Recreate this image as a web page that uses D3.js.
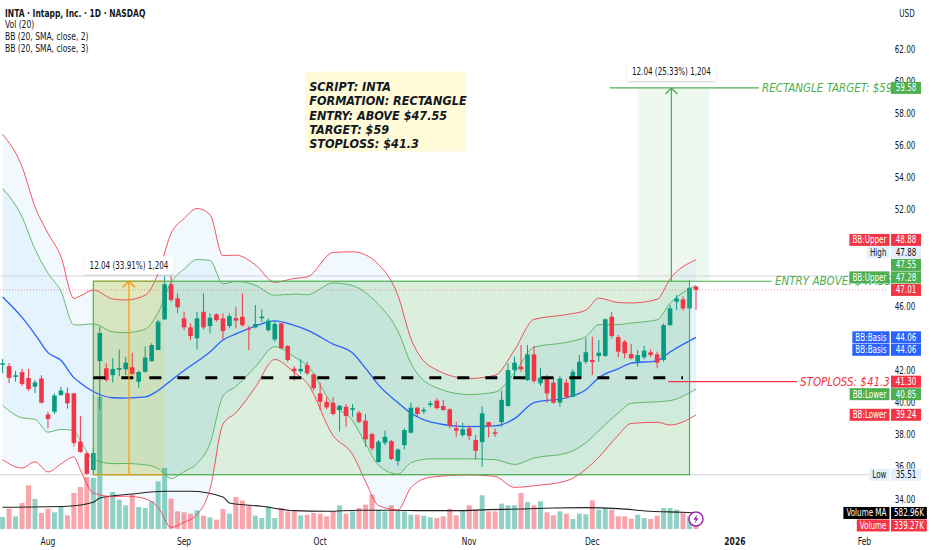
<!DOCTYPE html>
<html>
<head>
<meta charset="utf-8">
<script src="https://cdn.jsdelivr.net/npm/d3@7"></script>
<style>
	body { margin: 0; background: #fff; }
	svg { display: block; font-family: "Liberation Sans Narrow", "DejaVu Sans Condensed", sans-serif; }
	.note { font-family: "DejaVu Sans Condensed", "Liberation Sans Narrow", sans-serif; font-style: italic; }
</style>
</head>
<body>
<div id="chart"></div>
<script>
//daily bars, Jul 23 2025 -> Dec 23 2025
var barOpen = [42.35,42.27,41.60,41.90,41.53,40.99,41.50,39.26,39.43,40.47,40.59,40.57,37.58,36.84,35.80,42.58,42.13,41.71,42.05,42.07,
	42.20,41.30,41.92,42.58,43.27,45.18,47.36,46.48,45.24,44.68,44.00,45.65,44.76,45.49,45.24,44.76,45.25,45.34,44.60,44.68,
	45.25,44.50,43.93,44.93,43.52,42.10,41.95,42.34,41.76,40.57,40.05,39.99,39.54,39.74,39.55,39.37,38.87,38.04,36.30,37.50,
	37.60,36.36,37.36,38.12,39.68,39.45,39.85,40.12,39.79,39.58,38.40,37.98,38.40,37.67,37.54,38.78,38.15,38.78,39.79,42.02,
	42.23,41.40,43.00,41.20,41.55,41.24,40.00,41.24,40.36,41.57,42.54,42.65,42.90,42.90,45.34,44.07,43.79,43.02,42.54,42.82,
	43.13,43.00,42.65,44.82,46.28,46.42,45.86,47.22];
var barHigh = [42.71,42.46,41.98,42.10,42.09,41.40,41.70,39.43,40.57,40.99,40.95,40.60,39.16,36.90,37.17,44.72,42.44,42.77,43.30,42.85,
	43.10,41.98,43.48,43.69,45.14,47.85,47.88,46.80,45.65,44.93,45.65,46.80,45.55,45.55,45.55,45.55,45.96,46.80,44.76,46.07,
	45.80,45.24,45.03,44.97,43.58,42.27,42.69,42.54,41.82,41.24,40.33,40.33,39.85,39.91,39.91,39.49,39.29,38.12,37.67,38.25,
	37.67,37.15,38.40,39.99,39.74,39.70,40.12,40.27,40.16,39.64,38.81,38.75,38.60,37.98,39.78,38.81,38.40,40.74,42.44,42.85,
	43.58,43.58,43.52,42.13,41.71,41.61,41.65,41.45,42.07,42.96,44.00,44.10,43.89,45.24,45.65,44.20,43.89,43.64,43.27,43.52,
	43.31,43.17,44.93,46.07,46.69,46.59,47.60,47.25];
var barLow = [41.84,41.22,41.30,41.03,40.72,40.59,39.95,38.40,39.29,40.41,39.62,37.25,36.88,35.51,35.55,39.54,41.30,41.24,41.65,41.71,
	41.70,40.92,41.86,42.54,43.27,45.14,46.27,45.55,44.51,43.89,43.30,44.56,44.31,45.03,43.93,44.62,44.62,44.72,43.27,44.62,
	45.03,44.41,43.79,43.31,42.54,41.36,41.82,41.71,40.74,39.54,39.58,39.22,38.20,38.50,39.12,38.71,37.25,37.00,36.26,37.36,
	36.42,36.06,37.09,38.09,39.12,39.29,39.70,39.58,39.49,38.40,37.87,37.87,37.67,36.47,36.00,37.84,37.87,38.50,39.74,41.51,
	41.92,41.34,41.20,41.03,39.99,39.91,39.74,40.26,40.33,41.51,42.40,41.71,42.54,42.85,44.00,42.82,42.75,42.69,42.23,42.69,
	42.82,42.13,42.54,44.76,45.76,45.72,45.80,45.76];
var barClose = [42.45,41.53,41.70,41.15,40.84,41.25,39.99,38.98,40.44,40.75,39.95,37.48,36.92,35.57,36.86,44.33,41.40,42.09,42.15,42.48,
	41.78,41.90,42.80,43.58,45.03,47.36,46.38,45.93,44.68,44.14,45.24,44.68,45.28,45.13,44.45,45.38,45.10,44.82,44.55,44.89,
	45.35,45.10,44.89,43.38,42.65,41.95,42.10,41.82,40.89,40.05,39.70,39.29,39.80,39.17,39.65,38.80,37.71,37.15,37.56,37.87,
	36.49,37.08,38.29,39.68,39.29,39.55,39.95,39.65,39.54,38.54,38.25,38.34,37.92,37.00,39.33,38.54,38.05,40.17,42.02,42.48,
	42.07,43.00,41.34,41.55,40.57,40.00,41.50,40.36,41.92,42.54,43.13,42.52,43.10,45.18,44.14,43.17,43.07,42.75,42.96,43.23,
	42.96,42.48,44.82,45.86,46.48,45.86,47.14,47.01];
//volume in thousands of shares
var barVolume = [437,740,462,946,1590,1092,582,740,607,800,498,1310,1530,1890,1856,4800,1190,1347,1067,862,
	1250,800,764,1008,1736,2220,1104,643,607,558,680,485,425,340,728,558,1165,1032,850,485,
	400,825,400,764,643,643,498,522,582,558,462,643,862,558,643,764,885,1250,703,643,
	862,680,643,522,522,485,425,400,462,740,498,680,862,703,1226,643,643,922,862,862,
	1310,983,862,1008,607,498,643,558,364,558,534,1044,703,764,703,462,462,376,522,400,
	364,485,764,764,703,607,462,339];

//volume MA (20) read at sample bars
var vmaBar = [0,10,14,15,20,25,29,34,35,40,45,50,55,60,65,70,75,80,85,90,95,100,105,107];
var vmaValue = [789,825,971,1128,1274,1371,1371,1165,946,825,667,643,680,680,667,667,703,728,764,776,740,643,607,583];

//bollinger basis and 2-sigma width read at sample bars
var bbBar = [0,3,5,7,9,11,12,14,17,19,22,24,26,28,30,32,34,36,39,42,45,47,51,54,56,58,61,63,66,72,76,79,82,87,90,92,95,97,101,103,107];
var bbBasis = [46.57,45.30,44.25,43.11,42.63,41.55,41.22,40.69,40.30,40.28,40.35,40.75,41.38,42.00,42.55,43.15,43.89,44.27,44.76,45.08,
	44.80,44.51,43.64,43.08,42.14,41.10,40.00,39.35,38.80,38.50,38.55,39.00,40.00,40.30,40.80,41.55,42.10,42.45,42.60,43.15,44.06];
var bbDev = [6.75,6.25,5.29,4.95,4.30,3.29,3.61,4.21,4.10,4.07,4.22,4.85,6.10,6.30,6.35,5.70,3.50,3.27,2.54,1.60,
	1.95,2.20,3.80,4.20,4.70,5.00,4.45,3.10,2.30,2.00,2.10,2.85,3.45,3.45,3.30,3.30,2.75,2.50,2.55,3.03,3.22];
//last values shown on the price scale: upper(3), upper(2), basis, lower(2), lower(3)
var bbLast = [48.88, 47.28, 44.06, 40.85, 39.24];
var volumeLast = [582.96, 339.27];

//rectangle pattern drawing
var rectBars = [14, 106];
var rectPrices = [35.51, 47.55];
var entryPrice = 47.55;
var targetPrice = 59.58;
var stopPrice = 41.30;
var midPrice = 41.55;
var leftRange = [14, 25];
var targetRange = [98, 109];
var rangeTexts = ["12.04 (33.91%) 1,204", "12.04 (25.33%) 1,204"];
var noteLines = ["SCRIPT: INTA", "FORMATION: RECTANGLE", "ENTRY: ABOVE $47.55", "TARGET: $59", "STOPLOSS: $41.3"];

//axis labels
var priceTicks = [34, 36, 38, 40, 42, 44, 46, 48, 50, 52, 54, 56, 58, 60, 62];
var timeTicks = ["Aug", "Sep", "Oct", "Nov", "Dec", "2026", "Feb"];
var timeTickBars = [7, 28, 49, 72, 91, 113, 133];
var legendLines = ["INTA \u00b7 Intapp, Inc. \u00b7 1D \u00b7 NASDAQ", "Vol (20)", "BB (20, SMA, close, 2)", "BB (20, SMA, close, 3)"];

!function() {
	var width = 932,
		height = 550,
		paneRight = 887,
		paneBottom = 530,
		squeezeBy = 0.8;

	var up = "#089981", down = "#f23645",
		bbGreen = "#4caf50", bbRed = "#f23645", bbBlue = "#2962ff",
		ink = "#131722";

	var svg = d3.select("#chart").append("svg")
		.attr("width", width)
		.attr("height", height);

	svg.append("rect").attr("width", width).attr("height", height).attr("fill", "#fff");

	//the screenshot UI text is narrow, squeeze it horizontally
	function squeeze(sel) {
		sel.each(function() {
			var w = this.getComputedTextLength();
			d3.select(this).attr("textLength", w * squeezeBy).attr("lengthAdjust", "spacingAndGlyphs");
		});
		return sel;
	}

	var defs = svg.append("defs");
	defs.append("clipPath").attr("id", "pane")
		.append("rect").attr("width", paneRight).attr("height", paneBottom);
	var shadow = defs.append("filter").attr("id", "shadow").attr("x", "-20%").attr("y", "-40%").attr("width", "140%").attr("height", "180%");
	shadow.append("feDropShadow").attr("dx", 0).attr("dy", 1).attr("stdDeviation", 1.2).attr("flood-color", "#000").attr("flood-opacity", 0.18);

	//scales
	var x = d3.scaleLinear().domain([0, 107]).range([2.6, 696]);
	var y = d3.scaleLinear().domain([34, 62]).range([499, 49]);
	var yVol = d3.scaleLinear().domain([0, 1000]).range([529, 501.5]);

	var bars = barOpen.map(function(o, i) {
		return {i: i, o: o, h: barHigh[i], l: barLow[i], c: barClose[i], v: barVolume[i]};
	});
	var bands = bbBar.map(function(b, k) {
		return {i: b, m: bbBasis[k], d: bbDev[k]};
	});

	var pane = svg.append("g").attr("clip-path", "url(#pane)");

	//bollinger fills
	[3, 2].forEach(function(mult) {
		pane.append("path")
			.datum(bands)
			.attr("fill", "rgba(33,150,243,0.06)")
			.attr("d", d3.area()
				.curve(d3.curveMonotoneX)
				.x(function(d) { return x(d.i); })
				.y0(function(d) { return y(d.m - d.d * mult / 2); })
				.y1(function(d) { return y(d.m + d.d * mult / 2); }));
	});

	//drawings fills (behind the series)
	pane.append("rect")
		.attr("x", x(rectBars[0])).attr("y", y(rectPrices[1]))
		.attr("width", x(rectBars[1]) - x(rectBars[0]))
		.attr("height", y(rectPrices[0]) - y(rectPrices[1]))
		.attr("fill", "rgba(76,175,80,0.2)");
	pane.append("rect")
		.attr("x", x(leftRange[0])).attr("y", y(rectPrices[1]))
		.attr("width", x(leftRange[1]) - x(leftRange[0]))
		.attr("height", y(rectPrices[0]) - y(rectPrices[1]))
		.attr("fill", "rgba(255,193,7,0.13)");
	pane.append("rect")
		.attr("x", x(targetRange[0])).attr("y", y(targetPrice))
		.attr("width", x(targetRange[1]) - x(targetRange[0]))
		.attr("height", y(entryPrice) - y(targetPrice))
		.attr("fill", "rgba(76,175,80,0.09)");

	//volume
	pane.selectAll("rect.vol")
		.data(bars)
		.enter().append("rect")
		.attr("class", "vol")
		.attr("x", function(d) { return x(d.i) - 2.5; })
		.attr("width", 5)
		.attr("y", function(d) { return yVol(d.v); })
		.attr("height", function(d) { return yVol(0) - yVol(d.v); })
		.attr("fill", function(d) { return d.c >= d.o ? "rgba(8,153,129,0.45)" : "rgba(242,54,69,0.45)"; });

	pane.append("path")
		.datum(vmaBar.map(function(b, k) { return [b, vmaValue[k]]; }))
		.attr("fill", "none")
		.attr("stroke", "#212121")
		.attr("stroke-width", 1.1)
		.attr("d", d3.line().curve(d3.curveMonotoneX)
			.x(function(d) { return x(d[0]); })
			.y(function(d) { return yVol(d[1]); }));

	//high / low / last price lines
	var hi = d3.max(barHigh), lo = d3.min(barLow), last = barClose[barClose.length - 1];
	[hi, lo].forEach(function(p) {
		pane.append("line").attr("x1", 0).attr("x2", paneRight)
			.attr("y1", y(p)).attr("y2", y(p))
			.attr("stroke", "#d1d4dc").attr("stroke-width", 1);
	});
	pane.append("line").attr("x1", 0).attr("x2", paneRight)
		.attr("y1", y(last)).attr("y2", y(last))
		.attr("stroke", "rgba(242,54,69,0.45)").attr("stroke-width", 1).attr("stroke-dasharray", "1,2");

	//bollinger lines
	var bandLines = [
		{k: 1.5, c: bbRed}, {k: -1.5, c: bbRed},
		{k: 1, c: bbGreen}, {k: -1, c: bbGreen},
		{k: 0, c: bbBlue}
	];
	bandLines.forEach(function(b) {
		pane.append("path")
			.datum(bands)
			.attr("fill", "none")
			.attr("stroke", b.c)
			.attr("stroke-width", b.k === 0 ? 1.3 : 1)
			.attr("stroke-opacity", b.k === 0 ? 1 : 0.85)
			.attr("d", d3.line().curve(d3.curveMonotoneX)
				.x(function(d) { return x(d.i); })
				.y(function(d) { return y(d.m + d.d * b.k); }));
	});

	//candles
	var candle = pane.selectAll("g.candle")
		.data(bars)
		.enter().append("g")
		.attr("class", "candle");
	candle.append("line")
		.attr("x1", function(d) { return x(d.i); })
		.attr("x2", function(d) { return x(d.i); })
		.attr("y1", function(d) { return y(d.h); })
		.attr("y2", function(d) { return y(d.l); })
		.attr("stroke", function(d) { return d.c >= d.o ? up : down; });
	candle.append("rect")
		.attr("x", function(d) { return x(d.i) - 2.3; })
		.attr("width", 4.6)
		.attr("y", function(d) { return y(Math.max(d.o, d.c)); })
		.attr("height", function(d) { return Math.max(1, Math.abs(y(d.o) - y(d.c))); })
		.attr("fill", function(d) { return d.c >= d.o ? up : down; });

	//rectangle border and mid dashed line
	pane.append("rect")
		.attr("x", x(rectBars[0])).attr("y", y(rectPrices[1]))
		.attr("width", x(rectBars[1]) - x(rectBars[0]))
		.attr("height", y(rectPrices[0]) - y(rectPrices[1]))
		.attr("fill", "none").attr("stroke", bbGreen).attr("stroke-width", 1.2);
	pane.append("line")
		.attr("x1", x(rectBars[0])).attr("x2", x(105))
		.attr("y1", y(midPrice)).attr("y2", y(midPrice))
		.attr("stroke", "#000").attr("stroke-width", 3).attr("stroke-dasharray", "12,16");

	//left price range (orange)
	var lx = (x(leftRange[0]) + x(leftRange[1])) / 2;
	pane.append("line").attr("x1", x(leftRange[0])).attr("x2", x(leftRange[1]))
		.attr("y1", y(rectPrices[0])).attr("y2", y(rectPrices[0])).attr("stroke", "#ff9800").attr("stroke-width", 1.2);
	pane.append("line").attr("x1", x(leftRange[0])).attr("x2", x(leftRange[1]))
		.attr("y1", y(rectPrices[1])).attr("y2", y(rectPrices[1])).attr("stroke", "#b7a733").attr("stroke-width", 1.2);
	pane.append("line").attr("x1", lx).attr("x2", lx)
		.attr("y1", y(rectPrices[0])).attr("y2", y(rectPrices[1])).attr("stroke", "#ff9800").attr("stroke-width", 1.2);
	pane.append("path")
		.attr("d", "M" + (lx - 6) + "," + (y(rectPrices[1]) + 6) + "L" + lx + "," + y(rectPrices[1]) + "L" + (lx + 6) + "," + (y(rectPrices[1]) + 6))
		.attr("fill", "none").attr("stroke", "#ff9800").attr("stroke-width", 1.4);

	//target price range (green)
	var tx = x(103.2);
	pane.append("line").attr("x1", tx).attr("x2", tx)
		.attr("y1", y(entryPrice)).attr("y2", y(targetPrice)).attr("stroke", bbGreen).attr("stroke-width", 1.2);
	pane.append("path")
		.attr("d", "M" + (tx - 6) + "," + (y(targetPrice) + 6) + "L" + tx + "," + y(targetPrice) + "L" + (tx + 6) + "," + (y(targetPrice) + 6))
		.attr("fill", "none").attr("stroke", bbGreen).attr("stroke-width", 1.4);

	//horizontal levels with text in the line
	function level(price, fromBar, textX, label, color) {
		var t = svg.append("text")
			.attr("class", "note")
			.attr("x", textX).attr("y", y(price))
			.attr("dy", "0.36em")
			.attr("font-size", 11.5)
			.attr("fill", color)
			.text(label);
		var w = t.node().getComputedTextLength();
		pane.append("line").attr("x1", x(fromBar)).attr("x2", textX - 3)
			.attr("y1", y(price)).attr("y2", y(price)).attr("stroke", color).attr("stroke-width", 1.2);
		pane.append("line").attr("x1", textX + w + 3).attr("x2", paneRight)
			.attr("y1", y(price)).attr("y2", y(price)).attr("stroke", color).attr("stroke-width", 1.2);
	}
	level(targetPrice, 93.7, 762, "RECTANGLE TARGET: $59", bbGreen);
	level(entryPrice, rectBars[1], 775, "ENTRY ABOVE: $47.55", bbGreen);
	level(stopPrice, 102.7, 800, "STOPLOSS: $41.3", "#f23645");

	//price range labels
	function rangeLabel(cx, top, label) {
		var g = svg.append("g");
		var t = g.append("text").attr("x", cx).attr("y", top - 16).attr("dy", "0.35em")
			.attr("text-anchor", "middle").attr("font-size", 10).attr("fill", ink).text(label);
		squeeze(t);
		var w = t.node().getComputedTextLength() + 10;
		g.insert("rect", "text")
			.attr("x", cx - w / 2).attr("y", top - 25).attr("width", w).attr("height", 18)
			.attr("rx", 3).attr("fill", "#fff").attr("filter", "url(#shadow)");
	}
	rangeLabel(lx, y(rectPrices[1]), rangeTexts[0]);
	rangeLabel(tx, y(targetPrice), rangeTexts[1]);

	//note box
	var note = svg.append("g").attr("transform", "translate(" + x(46.7) + "," + y(60.6) + ")");
	note.append("rect").attr("width", 161).attr("height", 80).attr("fill", "rgba(255,235,59,0.2)");
	note.selectAll("text")
		.data(noteLines)
		.enter().append("text")
		.attr("class", "note")
		.attr("x", 4)
		.attr("y", function(d, i) { return 15 + i * 14.3; })
		.attr("dy", "0.36em")
		.attr("font-size", 12.5)
		.attr("font-weight", "bold")
		.attr("fill", ink)
		.text(function(d) { return d; });

	//events marker
	var ev = svg.append("g").attr("transform", "translate(" + x(107) + ",519)");
	ev.append("circle").attr("r", 7).attr("fill", "#fff").attr("stroke", "#9c27b0").attr("stroke-width", 1.5);
	ev.append("path").attr("d", "M1.2,-4.5L-2.6,0.8L-0.2,0.8L-1.2,4.5L2.6,-0.8L0.2,-0.8Z").attr("fill", "#9c27b0");

	//price scale labels, stacked round the last price
	var labels = [
		{y: y(bbLast[0]), name: "BB:Upper", value: bbLast[0].toFixed(2), bg: bbRed},
		{y: y(hi), name: "High", value: hi.toFixed(2), bg: "#e3effd", fg: ink},
		{y: y(entryPrice), value: entryPrice.toFixed(2), bg: bbGreen},
		{y: y(bbLast[1]), name: "BB:Upper", value: bbLast[1].toFixed(2), bg: bbGreen},
		{y: y(last), value: last.toFixed(2), bg: down, pin: true},
		{y: y(bbLast[2]), name: "BB:Basis", value: bbLast[2].toFixed(2), bg: bbBlue},
		{y: y(bbLast[2]), name: "BB:Basis", value: bbLast[2].toFixed(2), bg: bbBlue},
		{y: y(stopPrice), value: stopPrice.toFixed(2), bg: "#f23645"},
		{y: y(bbLast[3]), name: "BB:Lower", value: bbLast[3].toFixed(2), bg: bbGreen},
		{y: y(bbLast[4]), name: "BB:Lower", value: bbLast[4].toFixed(2), bg: bbRed},
		{y: y(lo), name: "Low", value: lo.toFixed(2), bg: "#e3effd", fg: ink},
		{y: yVol(volumeLast[0]), name: "Volume MA", value: volumeLast[0].toFixed(2) + "K", bg: "#000"},
		{y: yVol(volumeLast[1]), name: "Volume", value: volumeLast[1].toFixed(2) + "K", bg: down}
	];
	var gap = 12.5, pin = 4;
	for (var k = pin - 1; k >= 0; k--) labels[k].y = Math.min(labels[k].y, labels[k + 1].y - gap);
	for (var k = pin + 1; k < labels.length; k++) labels[k].y = Math.max(labels[k].y, labels[k - 1].y + gap);
	labels.push({y: y(targetPrice), value: targetPrice.toFixed(2), bg: bbGreen});

	//price scale ticks, the ones buried under a label are hidden
	var shownTicks = priceTicks.filter(function(p) {
		return labels.every(function(l) { return Math.abs(l.y - y(p)) > 6; });
	});
	squeeze(svg.selectAll("text.tick")
		.data(shownTicks)
		.enter().append("text")
		.attr("class", "tick")
		.attr("x", 905).attr("y", function(d) { return y(d); })
		.attr("dy", "0.35em")
		.attr("text-anchor", "middle")
		.attr("font-size", 10)
		.attr("fill", ink)
		.text(function(d) { return d3.format(".2f")(d); }));

	squeeze(svg.append("text").attr("x", 907).attr("y", 13).attr("dy", "0.35em")
		.attr("text-anchor", "middle").attr("font-size", 10).attr("fill", ink).text("USD"));

	labels.forEach(function(l) {
		var g = svg.append("g");
		var fg = l.fg || "#fff";
		var vt = g.append("text").attr("x", 905.5).attr("y", l.y).attr("dy", "0.35em")
			.attr("text-anchor", "middle").attr("font-size", 10).attr("fill", fg).text(l.value);
		squeeze(vt);
		var vw = Math.max(30, vt.node().getComputedTextLength() + 6);
		vt.attr("x", 891 + vw / 2);
		g.insert("rect", "text").attr("x", 891).attr("y", l.y - 6).attr("width", vw).attr("height", 12).attr("fill", l.bg);
		if (l.name) {
			var nt = g.append("text").attr("x", 886.5).attr("y", l.y).attr("dy", "0.35em")
				.attr("text-anchor", "end").attr("font-size", 10).attr("fill", fg).text(l.name);
			squeeze(nt);
			var nw = nt.node().getComputedTextLength() + 6;
			g.insert("rect", ":last-child").attr("x", 889.5 - nw).attr("y", l.y - 6).attr("width", nw).attr("height", 12).attr("fill", l.bg);
		}
	});

	//time axis
	squeeze(svg.selectAll("text.time")
		.data(timeTicks)
		.enter().append("text")
		.attr("class", "time")
		.attr("x", function(d, i) { return x(timeTickBars[i]); })
		.attr("y", 541).attr("dy", "0.35em")
		.attr("text-anchor", "middle")
		.attr("font-size", 10.5)
		.attr("font-weight", function(d) { return d === "2026" ? "bold" : "normal"; })
		.attr("fill", ink)
		.text(function(d) { return d; }));

	//legend
	squeeze(svg.selectAll("text.legend")
		.data(legendLines)
		.enter().append("text")
		.attr("class", "legend")
		.attr("x", 5)
		.attr("y", function(d, i) { return 13 + i * 11.8; })
		.attr("dy", "0.35em")
		.attr("font-size", 10.5)
		.attr("font-weight", function(d, i) { return i === 0 ? "bold" : "normal"; })
		.attr("fill", ink)
		.text(function(d) { return d; }));
}();
</script>
</body>
</html>
